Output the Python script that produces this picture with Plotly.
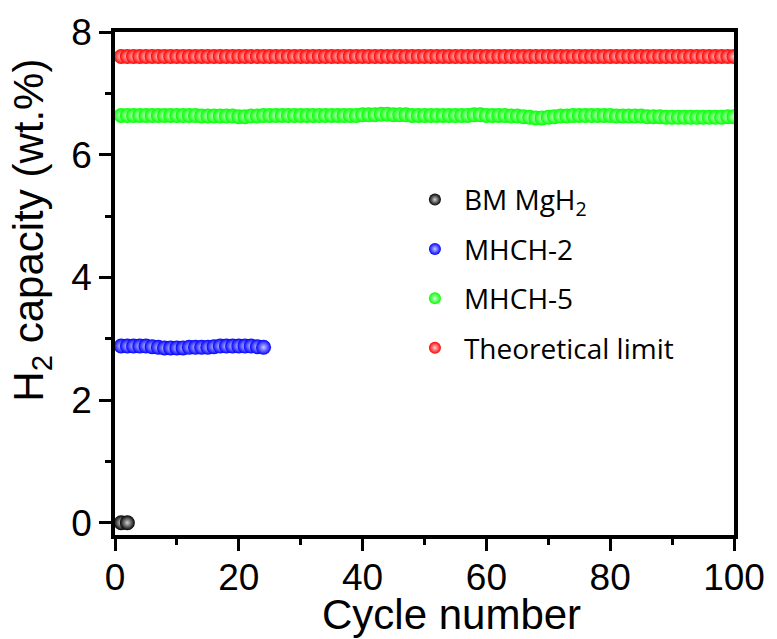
import plotly.graph_objects as go

cycles_bm = [1, 2]
cap_bm = [0.0, 0.0]

cycles_h2 = list(range(1, 25))
cap_h2 = [2.88, 2.88, 2.88, 2.88, 2.88, 2.87, 2.86, 2.85, 2.85, 2.85, 2.85, 2.86,
          2.86, 2.86, 2.86, 2.87, 2.88, 2.88, 2.88, 2.88, 2.88, 2.88, 2.87, 2.86]

cycles_h5 = list(range(1, 101))
cap_h5 = [6.64, 6.64, 6.64, 6.64, 6.64, 6.64, 6.64, 6.64, 6.64, 6.64,
          6.64, 6.64, 6.64, 6.63, 6.63, 6.63, 6.63, 6.63, 6.63, 6.62,
          6.62, 6.63, 6.63, 6.64, 6.64, 6.64, 6.64, 6.64, 6.64, 6.64,
          6.64, 6.64, 6.64, 6.64, 6.64, 6.64, 6.64, 6.64, 6.64, 6.65,
          6.65, 6.65, 6.66, 6.66, 6.65, 6.65, 6.65, 6.64, 6.64, 6.64,
          6.64, 6.64, 6.64, 6.64, 6.64, 6.64, 6.64, 6.65, 6.65, 6.64,
          6.64, 6.64, 6.64, 6.63, 6.63, 6.62, 6.61, 6.60, 6.60, 6.61,
          6.62, 6.63, 6.63, 6.64, 6.64, 6.64, 6.64, 6.64, 6.64, 6.64,
          6.63, 6.63, 6.63, 6.63, 6.63, 6.62, 6.62, 6.62, 6.61, 6.61,
          6.61, 6.61, 6.61, 6.61, 6.61, 6.61, 6.61, 6.61, 6.62, 6.62]

cycles_th = list(range(1, 101))
cap_th = [7.6] * 100

names = ["BM MgH<sub>2</sub>", "MHCH-2", "MHCH-5", "Theoretical limit"]
colors = ["#000000", "#0000ff", "#00ff00", "#ff0000"]
highlights = ["#d0d0d0", "#c8c8ff", "#d0ffd0", "#ffd0d0"]
xs = [cycles_bm, cycles_h2, cycles_h5, cycles_th]
ys = [cap_bm, cap_h2, cap_h5, cap_th]

fig = go.Figure()
for i, (n, c, h, x, y) in enumerate(zip(names, colors, highlights, xs, ys)):
    fig.add_trace(go.Scatter(
        x=x, y=y, mode="markers", name=n, legendgroup=f"g{i}",
        marker=dict(size=15, color=c, line=dict(width=0),
                    gradient=dict(type="radial", color=h)),
    ))

axis_common = dict(
    showline=True, linecolor="black", linewidth=3.5, mirror=True,
    ticks="outside", ticklen=12, tickwidth=3, tickcolor="black",
    showgrid=False, zeroline=False,
    tickfont=dict(family="Liberation Sans, Arial", size=37, color="black"),
)

fig.update_xaxes(range=[0, 100], tickvals=[0, 20, 40, 60, 80, 100],
                 ticklabelstandoff=-5,
                 minor=dict(ticks="outside", ticklen=6, tickwidth=3,
                            tickcolor="black", tickvals=[10, 30, 50, 70, 90]),
                 **axis_common)
fig.update_yaxes(range=[-0.2, 8], tickvals=[0, 2, 4, 6, 8],
                 minor=dict(ticks="outside", ticklen=6, tickwidth=3,
                            tickcolor="black", tickvals=[1, 3, 5, 7]),
                 **axis_common)

fig.add_annotation(text="Cycle number", xref="paper", yref="paper",
                   x=0.543, y=0, yshift=-79, xanchor="center", yanchor="middle",
                   showarrow=False,
                   font=dict(family="Liberation Sans, Arial", size=42, color="black"))
fig.add_annotation(text="H<sub>2</sub> capacity (wt.%)", xref="paper", yref="paper",
                   x=0, xshift=-83, y=0.605, xanchor="center", yanchor="middle",
                   textangle=-90, showarrow=False,
                   font=dict(family="Liberation Sans, Arial", size=42, color="black"))

fig.update_layout(
    width=777, height=639,
    margin=dict(l=115, r=37, t=32, b=104),
    plot_bgcolor="white", paper_bgcolor="white",
    showlegend=True,
    legend=dict(x=0.47, y=0.716, xanchor="left", yanchor="top",
                bgcolor="rgba(0,0,0,0)", borderwidth=0,
                font=dict(family="Open Sans", size=28, color="black"),
                itemsizing="constant", itemwidth=48, tracegroupgap=10),
)

fig.write_html("out.html")
